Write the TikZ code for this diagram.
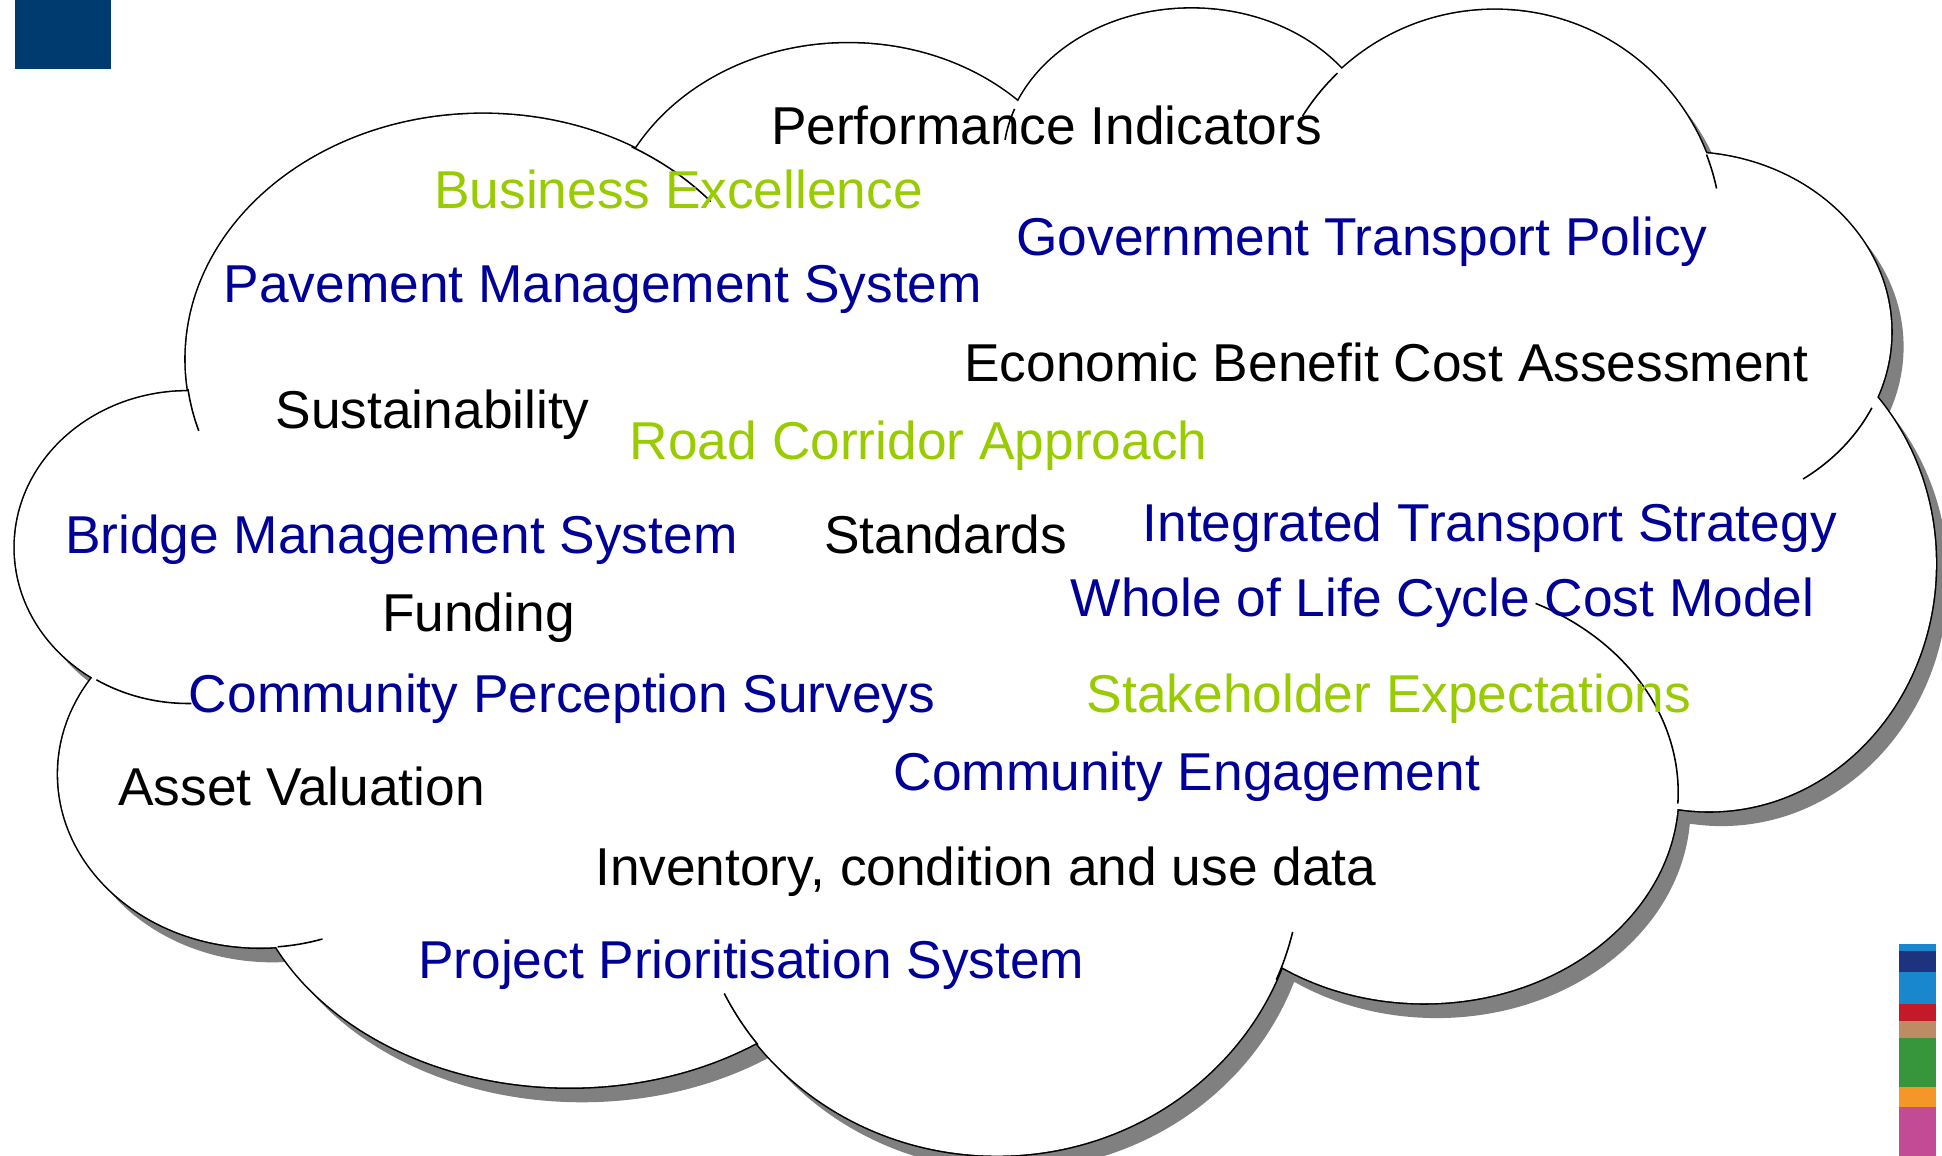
\documentclass[tikz,border=0pt]{standalone}
\usepackage{fontspec}
\setmainfont{Liberation Sans}
\definecolor{navyblue}{RGB}{0,0,153}
\definecolor{limegreen}{RGB}{153,204,0}
\definecolor{cornerblue}{RGB}{0,59,111}
\definecolor{shadowgray}{RGB}{128,128,128}
\definecolor{barnavy}{RGB}{30,50,125}
\definecolor{barblue}{RGB}{25,135,205}
\definecolor{barred}{RGB}{195,25,40}
\definecolor{bartan}{RGB}{190,140,100}
\definecolor{bargreen}{RGB}{55,150,60}
\definecolor{barorange}{RGB}{245,150,40}
\definecolor{barpink}{RGB}{195,75,150}
\begin{document}
\begin{tikzpicture}[x=0.0125cm, y=-0.0125cm,
  lobes/.style={insert path={
      (390,290) ellipse [x radius=240, y radius=198]
      (685,200) ellipse [x radius=196, y radius=165]
      (962,130) ellipse [x radius=152, y radius=123]
      (1207,190) ellipse [x radius=183, y radius=182]
      (1360,268) ellipse [x radius=167, y radius=145]
      (1380,455) ellipse [x radius=183, y radius=200]
      (1150,640) ellipse [x radius=205, y radius=170]
      (805,700) ellipse [x radius=245, y radius=233]
      (460,680) ellipse [x radius=262, y radius=198]
      (210,625) ellipse [x radius=163, y radius=140]
      (152,442) ellipse [x radius=140, y radius=126]}},
  core/.style={insert path={(780,460) ellipse [x radius=600, y radius=300]}},
  innerarc/.style={draw=black, line width=0.45pt},
  word/.style={anchor=base west, inner sep=0pt, font=\fontsize{15.3}{18}\selectfont}]

      \useasboundingbox (0,0) rectangle (1568,933);
      \fill[cornerblue] (12,0) rectangle (90,56);

      \begin{scope}[shift={(10,12)}]
        \fill[shadowgray] [lobes];
      \end{scope}
      \draw[line width=0.9pt] [lobes];
      \fill[white] [lobes];
      \fill[white] [core];

      \draw[innerarc] (390,290) ++(-60:240 and 198) arc[start angle=-60, end angle=-40, x radius=240, y radius=198];
      \draw[innerarc] (390,290) ++(173:240 and 198) arc[start angle=173, end angle=163, x radius=240, y radius=198];
      \draw[innerarc] (962,130) ++(200:152 and 123) arc[start angle=200, end angle=188, x radius=152, y radius=123];
      \draw[innerarc] (1207,190) ++(226:183 and 182) arc[start angle=226, end angle=212, x radius=183, y radius=182];
      \draw[innerarc] (1207,190) ++(-21:183 and 182) arc[start angle=-21, end angle=-12, x radius=183, y radius=182];
      \draw[innerarc] (1360,268) ++(25:167 and 145) arc[start angle=25, end angle=55, x radius=167, y radius=145];
      \draw[innerarc] (1150,640) ++(3:205 and 170) arc[start angle=3, end angle=-64, x radius=205, y radius=170];
      \draw[innerarc] (805,700) ++(23:245 and 233) arc[start angle=23, end angle=13, x radius=245, y radius=233];
      \draw[innerarc] (805,700) ++(142:245 and 233) arc[start angle=142, end angle=154, x radius=245, y radius=233];
      \draw[innerarc] (210,625) ++(85:163 and 140) arc[start angle=85, end angle=72, x radius=163, y radius=140];
      \draw[innerarc] (152,442) ++(122:140 and 126) arc[start angle=122, end angle=89, x radius=140, y radius=126];

      \node[word, black] (perf) at (622,117) {Performance Indicators};
      \node[word, limegreen] (busexc) at (350,168) {Business Excellence};
      \node[word, navyblue] (govpol) at (820,206) {Government Transport Policy};
      \node[word, navyblue] (pavms) at (180,244) {Pavement Management System};
      \node[word, black] (ebca) at (778,308) {Economic Benefit Cost Assessment};
      \node[word, black] (sustain) at (222,346) {Sustainability};
      \node[word, limegreen] (roadcorr) at (508,371) {Road Corridor Approach};
      \node[word, navyblue] (bridgems) at (52,447) {Bridge Management System};
      \node[word, black] (standards) at (665,447) {Standards};
      \node[word, navyblue] (its) at (922,437) {Integrated Transport Strategy};
      \node[word, navyblue] (wlcc) at (864,498) {Whole of Life Cycle Cost Model};
      \node[word, black] (funding) at (308,510) {Funding};
      \node[word, navyblue] (cps) at (152,575) {Community Perception Surveys};
      \node[word, limegreen] (stakeexp) at (877,575) {Stakeholder Expectations};
      \node[word, navyblue] (commeng) at (721,638) {Community Engagement};
      \node[word, black] (assetval) at (95,650) {Asset Valuation};
      \node[word, black] (invdata) at (480,715) {Inventory, condition and use data};
      \node[word, navyblue] (pps) at (337,790) {Project Prioritisation System};

      \fill[barblue] (1533,762) rectangle (1563,768);
      \fill[barnavy] (1533,768) rectangle (1563,785);
      \fill[barblue] (1533,785) rectangle (1563,811);
      \fill[barred] (1533,811) rectangle (1563,824);
      \fill[bartan] (1533,824) rectangle (1563,838);
      \fill[bargreen] (1533,838) rectangle (1563,878);
      \fill[barorange] (1533,878) rectangle (1563,894);
      \fill[barpink] (1533,894) rectangle (1563,933);

      \end{tikzpicture}
\end{document}
